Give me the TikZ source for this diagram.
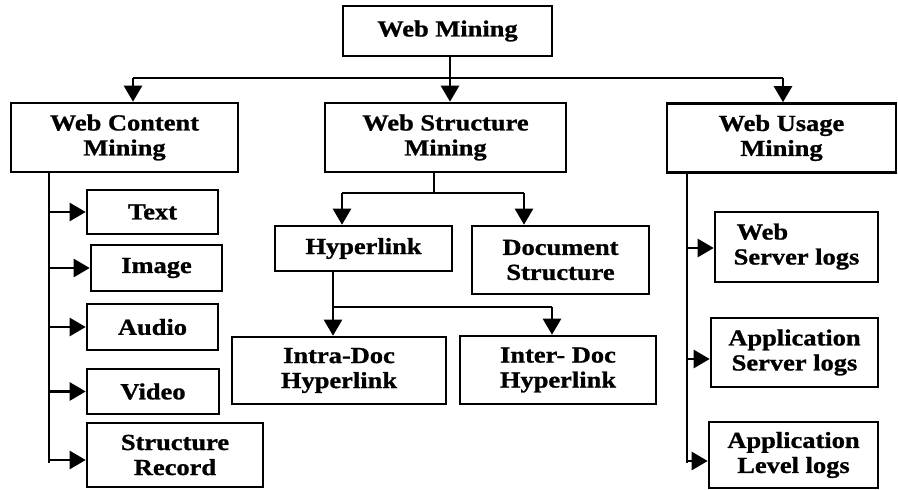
\documentclass[tikz,border=0pt]{standalone}
\usepackage{fontspec}
\setmainfont{Liberation Serif}[FakeStretch=1.15,FakeBold=1]
\usetikzlibrary{arrows.meta}
\begin{document}
\begin{tikzpicture}[x=1pt,y=-1pt,
  box/.style={draw,line width=2.6pt,inner sep=0pt,align=center,
    font=\fontsize{23}{25}\selectfont\bfseries},
  conn/.style={line width=2.6pt},
  arr/.style={line width=2.6pt,-{Triangle[length=16pt,width=18pt]}}]
\useasboundingbox (0,0) rectangle (898,490);
% boxes
\node[box,minimum width=209,minimum height=50] (wm) at (447.5,31) {Web Mining};
\node[box,minimum width=227,minimum height=69] (wcm) at (124.5,137.5) {Web Content\\Mining};
\node[box,minimum width=241,minimum height=69] (wsm) at (445.5,137.5) {Web Structure\\Mining};
\node[box,minimum width=229,minimum height=69] (wum) at (781.5,138) {Web Usage\\Mining};
\node[box,minimum width=131,minimum height=44] (text) at (152.5,212) {Text};
\node[box,minimum width=131,minimum height=46] (image) at (156.5,268) {Image};
\node[box,minimum width=131,minimum height=46] (audio) at (152.5,327) {Audio};
\node[box,minimum width=132,minimum height=45] (video) at (153,391.5) {Video};
\node[box,minimum width=176,minimum height=64] (strec) at (175,455) {Structure\\Record};
\node[box,minimum width=177,minimum height=45] (hyper) at (363.5,248.5) {Hyperlink};
\node[box,minimum width=177,minimum height=68] (docs) at (560.5,260) {Document\\Structure};
\node[box,minimum width=214,minimum height=67] (intra) at (339,370.5) {Intra-Doc\\Hyperlink};
\node[box,minimum width=196,minimum height=68] (inter) at (558,370) {Inter- Doc\\Hyperlink};
\node[box,minimum width=163,minimum height=70] (wsl) at (796.5,247) {\begin{tabular}{@{}l@{}}\hspace*{3pt}Web\\Server logs\end{tabular}};
\node[box,minimum width=167,minimum height=69] (asl) at (794.5,352.5) {Application\\Server logs};
\node[box,minimum width=169,minimum height=66] (all) at (793.5,455) {Application\\Level logs};
% top level connectors
\coordinate (t0) at (450,78);
\coordinate (tl) at (133,78);
\coordinate (tr) at (783,78);
\draw[conn] (wm.south -| t0) -- (t0);
\draw[conn] (tl) -- (tr);
\draw[arr] (tl) -- (tl |- wcm.north);
\draw[arr] (t0) -- (t0 |- wsm.north);
\draw[arr] (tr) -- (tr |- wum.north);
% content spine
\coordinate (cs) at (49,172);
\coordinate (ce) at (49,463);
\draw[conn] (cs) -- (ce);
\draw[arr] (cs |- text.west) -- (text.west);
\draw[arr] (cs |- image.west) -- (image.west);
\draw[arr] (cs |- audio.west) -- (audio.west);
\draw[arr] (cs |- video.west) -- (video.west);
\coordinate (sr) at (49,460);
\draw[arr] (sr) -- (sr -| strec.west);
% structure branch
\coordinate (s0) at (434,193);
\coordinate (sl) at (342,193);
\coordinate (sr2) at (524,193);
\draw[conn] (wsm.south -| s0) -- (s0);
\draw[conn] (sl) -- (sr2);
\draw[arr] (sl) -- (sl |- hyper.north);
\draw[arr] (sr2) -- (sr2 |- docs.north);
% hyperlink branch
\coordinate (h0) at (333,307);
\coordinate (h1) at (552,307);
\draw[arr] (hyper.south -| h0) -- (h0 |- intra.north);
\draw[conn] (h0) -- (h1);
\draw[arr] (h1) -- (h1 |- inter.north);
% usage spine
\coordinate (us) at (687,173);
\coordinate (ue) at (687,463);
\draw[conn] (us) -- (ue);
\coordinate (u1) at (687,248);
\coordinate (u2) at (687,359);
\coordinate (u3) at (687,461);
\draw[arr] (u1) -- (u1 -| wsl.west);
\draw[arr] (u2) -- (u2 -| asl.west);
\draw[arr] (u3) -- (u3 -| all.west);
\end{tikzpicture}
\end{document}
